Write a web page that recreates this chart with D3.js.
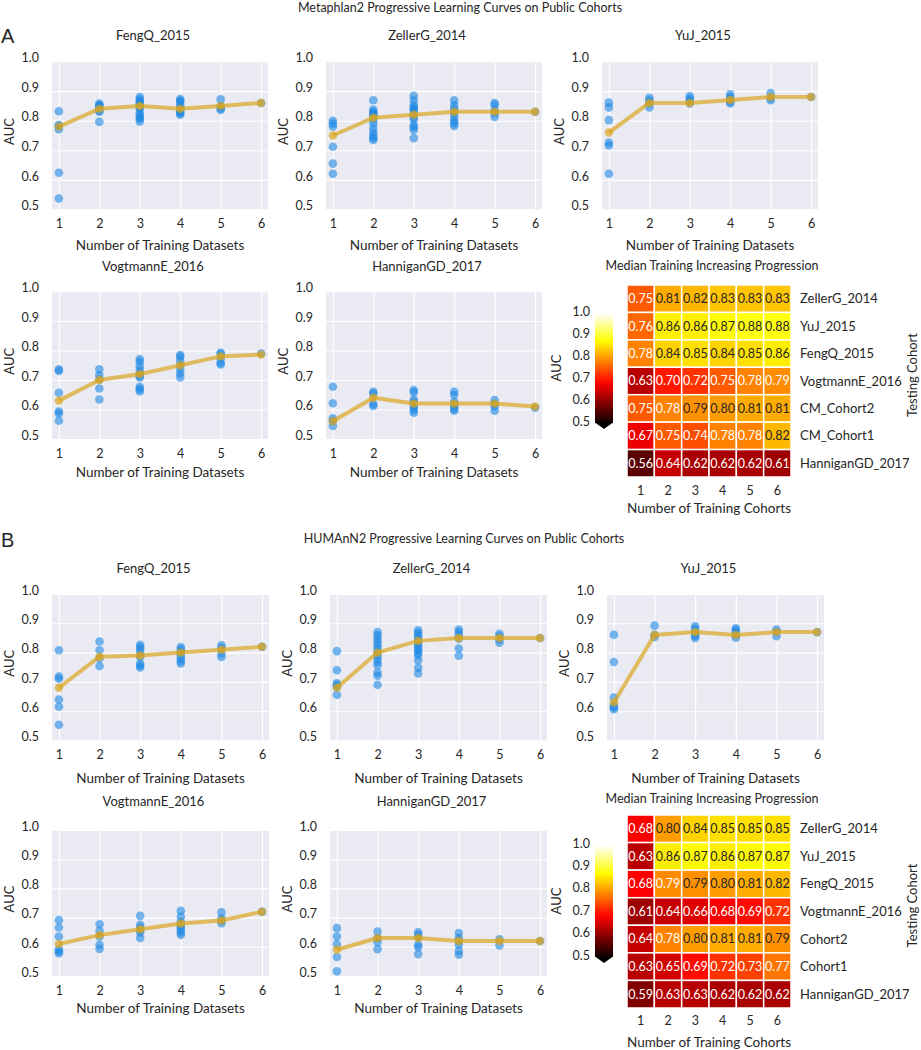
<!DOCTYPE html>
<html>
<head>
<meta charset="utf-8">
<script src="https://cdn.jsdelivr.net/npm/d3@7"></script>
<style>
  body { margin: 0; background: #fff; }
  svg text { font-family: Lato, "Open Sans", sans-serif; fill: #262626; }
</style>
</head>
<body>
<svg id="fig" width="921" height="1050"></svg>
<script>
// ---- data ----
const trainCounts = [1, 2, 3, 4, 5, 6];
const aucTicks = [0.5, 0.6, 0.7, 0.8, 0.9, 1.0];
const colorbarTicks = [0.5, 0.6, 0.7, 0.8, 0.9, 1.0];

const curveCohorts = ["FengQ_2015", "ZellerG_2014", "YuJ_2015", "VogtmannE_2016", "HanniganGD_2017"];

// median AUC per testing cohort (heatmap rows, also the gold lines)
const metaRows = ["ZellerG_2014", "YuJ_2015", "FengQ_2015", "VogtmannE_2016", "CM_Cohort2", "CM_Cohort1", "HanniganGD_2017"];
const metaMedian = [
  [0.75, 0.81, 0.82, 0.83, 0.83, 0.83],
  [0.76, 0.86, 0.86, 0.87, 0.88, 0.88],
  [0.78, 0.84, 0.85, 0.84, 0.85, 0.86],
  [0.63, 0.70, 0.72, 0.75, 0.78, 0.786],
  [0.75, 0.78, 0.79, 0.80, 0.81, 0.81],
  [0.67, 0.75, 0.74, 0.78, 0.78, 0.82],
  [0.56, 0.64, 0.62, 0.62, 0.62, 0.61]
];
const humRows = ["ZellerG_2014", "YuJ_2015", "FengQ_2015", "VogtmannE_2016", "Cohort2", "Cohort1", "HanniganGD_2017"];
const humMedian = [
  [0.68, 0.80, 0.84, 0.85, 0.85, 0.85],
  [0.63, 0.86, 0.87, 0.86, 0.87, 0.87],
  [0.68, 0.786, 0.79, 0.80, 0.81, 0.82],
  [0.61, 0.64, 0.66, 0.68, 0.69, 0.72],
  [0.64, 0.78, 0.80, 0.81, 0.81, 0.79],
  [0.63, 0.65, 0.69, 0.72, 0.73, 0.77],
  [0.59, 0.63, 0.63, 0.62, 0.62, 0.62]
];

// individual AUCs, one list per number of training datasets
const metaFengQ = [
  [0.832, 0.785, 0.782, 0.771, 0.624, 0.537],
  [0.858, 0.853, 0.85, 0.845, 0.834, 0.83, 0.796],
  [0.880, 0.872, 0.865, 0.860, 0.855, 0.849, 0.845, 0.84, 0.825, 0.819, 0.811, 0.806, 0.797],
  [0.873, 0.867, 0.864, 0.851, 0.845, 0.836, 0.83, 0.825, 0.820],
  [0.872, 0.849, 0.841, 0.836],
  [0.86]
];
const metaZeller = [
  [0.800, 0.790, 0.780, 0.712, 0.655, 0.621],
  [0.869, 0.838, 0.830, 0.825, 0.822, 0.813, 0.804, 0.791, 0.774, 0.760, 0.749, 0.741, 0.735],
  [0.884, 0.869, 0.853, 0.845, 0.840, 0.836, 0.825, 0.813, 0.804, 0.785, 0.778, 0.769, 0.741],
  [0.869, 0.853, 0.841, 0.832, 0.825, 0.813, 0.80, 0.791, 0.782],
  [0.860, 0.853, 0.836, 0.825, 0.813],
  [0.83]
];
const metaYuJ = [
  [0.861, 0.845, 0.802, 0.726, 0.716, 0.621],
  [0.877, 0.869, 0.860, 0.845],
  [0.883, 0.875, 0.867, 0.858],
  [0.889, 0.880, 0.872, 0.864, 0.858],
  [0.893, 0.877, 0.869],
  [0.88]
];
const metaVogtmann = [
  [0.736, 0.731, 0.657, 0.593, 0.587, 0.562],
  [0.736, 0.717, 0.702, 0.671, 0.634],
  [0.771, 0.762, 0.747, 0.733, 0.722, 0.713, 0.709, 0.677, 0.669, 0.661],
  [0.785, 0.779, 0.765, 0.750, 0.736, 0.722, 0.709],
  [0.792, 0.788, 0.773, 0.758, 0.753],
  [0.79]
];
const metaHannigan = [
  [0.677, 0.621, 0.570, 0.561, 0.544],
  [0.660, 0.654, 0.619, 0.612],
  [0.666, 0.658, 0.634, 0.626, 0.615, 0.606, 0.598, 0.589],
  [0.660, 0.649, 0.626, 0.619, 0.610, 0.602, 0.596],
  [0.632, 0.619, 0.610, 0.596],
  [0.606]
];
const humFengQ = [
  [0.808, 0.718, 0.711, 0.640, 0.615, 0.554],
  [0.838, 0.808, 0.780, 0.754],
  [0.827, 0.819, 0.810, 0.797, 0.785, 0.763, 0.755, 0.749],
  [0.819, 0.811, 0.802, 0.791, 0.780, 0.771, 0.763],
  [0.825, 0.816, 0.797, 0.785],
  [0.82]
];
const humZeller = [
  [0.805, 0.740, 0.695, 0.690, 0.684, 0.656],
  [0.870, 0.859, 0.847, 0.836, 0.825, 0.814, 0.802, 0.791, 0.780, 0.768, 0.757, 0.732, 0.721, 0.690],
  [0.876, 0.868, 0.859, 0.850, 0.842, 0.834, 0.825, 0.816, 0.808, 0.800, 0.791, 0.774, 0.748, 0.729],
  [0.879, 0.870, 0.859, 0.847, 0.814, 0.789],
  [0.864, 0.856, 0.845, 0.834],
  [0.85]
];
const humYuJ = [
  [0.861, 0.768, 0.647, 0.620, 0.613, 0.607],
  [0.892, 0.861, 0.853],
  [0.890, 0.881, 0.872, 0.864, 0.856, 0.850],
  [0.883, 0.876, 0.868, 0.859, 0.851],
  [0.879, 0.870, 0.856],
  [0.87]
];
const humVogtmann = [
  [0.692, 0.666, 0.635, 0.592, 0.584, 0.578],
  [0.677, 0.655, 0.635, 0.607, 0.593],
  [0.706, 0.675, 0.666, 0.658, 0.649, 0.630],
  [0.723, 0.703, 0.686, 0.675, 0.666, 0.658, 0.649, 0.641],
  [0.718, 0.698, 0.689, 0.681],
  [0.72]
];
const humHannigan = [
  [0.664, 0.635, 0.609, 0.565, 0.516],
  [0.652, 0.630, 0.616, 0.592],
  [0.650, 0.641, 0.632, 0.607, 0.599, 0.575],
  [0.647, 0.630, 0.620, 0.607, 0.586, 0.573],
  [0.626, 0.605],
  [0.62]
];

// ---- layout ----
const panels = [
  {
    letter: "A", letterY: 43, title: "Metaphlan2 Progressive Learning Curves on Public Cohorts", titleX: 460, titleY: 12,
    points: [metaFengQ, metaZeller, metaYuJ, metaVogtmann, metaHannigan],
    rows: metaRows, median: metaMedian,
    cols: [52, 326, 602], width: 216,
    lines: [
      { top: 61.5, bottom: 209.5, titleY: 39.5, xlabY: 249.5 },
      { top: 291.5, bottom: 439, titleY: 270.5, xlabY: 476.5 }
    ],
    heat: { x0: 627, x1: 791, y0: 285, y1: 477, titleY: 269.5, tickY: 494.5, labY: 512.5, cbTop: 313, cbBottom: 423 }
  },
  {
    letter: "B", letterY: 547, title: "HUMAnN2 Progressive Learning Curves on Public Cohorts", titleX: 464, titleY: 542.5,
    points: [humFengQ, humZeller, humYuJ, humVogtmann, humHannigan],
    rows: humRows, median: humMedian,
    cols: [52, 330, 607], width: 217,
    lines: [
      { top: 594, bottom: 740.5, titleY: 572.5, xlabY: 782.5 },
      { top: 830, bottom: 976, titleY: 805.5, xlabY: 1012.5 }
    ],
    heat: { x0: 627, x1: 791, y0: 815, y1: 1008, titleY: 802.5, tickY: 1024.5, labY: 1046.5, cbTop: 845, cbBottom: 957 }
  }
];

const svg = d3.select("#fig");
svg.append("rect").attr("width", 921).attr("height", 1050).attr("fill", "#fff");

// matplotlib "hot"
function hot(t) {
  t = Math.max(0, Math.min(1, t));
  const a = 0.365079, b = 0.746032;
  const r = t < a ? 0.0416 + (1 - 0.0416) * t / a : 1;
  const g = t < a ? 0 : (t < b ? (t - a) / (b - a) : 1);
  const bl = t < b ? 0 : (t - b) / (1 - b);
  return d3.rgb(r * 255, g * 255, bl * 255);
}
const aucToT = d3.scaleLinear().domain([0.5, 1.0]).range([0, 1]).clamp(true);

function luminance(c) {
  const lin = v => { v /= 255; return v <= 0.03928 ? v / 12.92 : Math.pow((v + 0.055) / 1.055, 2.4); };
  return 0.2126 * lin(c.r) + 0.7152 * lin(c.g) + 0.0722 * lin(c.b);
}

function drawCurve(name, pts, med, left, width, row) {
  const g = svg.append("g");
  const height = row.bottom - row.top;
  const x = d3.scaleLinear().domain([0.83, 6.17]).range([left, left + width]);
  const y = d3.scaleLinear().domain([0.5, 1.0]).range([row.bottom, row.top]);

  g.append("rect")
    .attr("x", left).attr("y", row.top)
    .attr("width", width).attr("height", height)
    .attr("fill", "#eaeaf2");

  const ya = g.append("g")
    .attr("transform", `translate(${left},0)`)
    .call(d3.axisLeft(y).tickValues(aucTicks).tickSize(-width).tickPadding(13).tickFormat(d3.format(".1f")))
    .attr("font-size", 12.5);
  ya.select(".domain").remove();
  ya.selectAll("line").attr("stroke", "#fff").attr("stroke-width", 1.1);
  ya.selectAll("text").attr("dy", "0.02em");

  const xa = g.append("g")
    .attr("transform", `translate(0,${row.bottom})`)
    .call(d3.axisBottom(x).tickValues(trainCounts).tickSize(-height).tickPadding(10).tickFormat(d3.format("d")))
    .attr("font-size", 12.5);
  xa.select(".domain").remove();
  xa.selectAll("line").attr("stroke", "#fff").attr("stroke-width", 1.1);

  const flat = [];
  pts.forEach((list, i) => list.forEach(v => flat.push({ n: trainCounts[i], v: v })));
  g.selectAll("circle.pt").data(flat).join("circle")
    .attr("class", "pt")
    .attr("cx", d => x(d.n)).attr("cy", d => y(d.v))
    .attr("r", 4.3)
    .attr("fill", "#1e88e5").attr("fill-opacity", 0.6);

  g.append("path")
    .datum(med)
    .attr("fill", "none")
    .attr("stroke", "goldenrod").attr("stroke-opacity", 0.7)
    .attr("stroke-width", 4)
    .attr("stroke-linejoin", "round")
    .attr("d", d3.line().x((d, i) => x(trainCounts[i])).y(d => y(d)));
  g.selectAll("circle.med").data(med).join("circle")
    .attr("class", "med")
    .attr("cx", (d, i) => x(trainCounts[i])).attr("cy", d => y(d))
    .attr("r", 4.2)
    .attr("fill", "goldenrod").attr("fill-opacity", 0.7);

  g.append("text")
    .attr("x", left + width / 2 - 7).attr("y", row.titleY)
    .attr("text-anchor", "middle").attr("font-size", 13)
    .text(name);
  g.append("text")
    .attr("x", left + width / 2).attr("y", row.xlabY)
    .attr("text-anchor", "middle").attr("font-size", 13.5)
    .text("Number of Training Datasets");
  g.append("text")
    .attr("transform", `translate(${left - 38},${(row.top + row.bottom) / 2 - 4}) rotate(-90)`)
    .attr("text-anchor", "middle").attr("font-size", 13)
    .text("AUC");
}

function drawHeat(p, gid) {
  const h = p.heat;
  const g = svg.append("g");
  const x = d3.scaleBand().domain(trainCounts).range([h.x0, h.x1]);
  const y = d3.scaleBand().domain(p.rows).range([h.y0, h.y1]);

  const cells = [];
  p.rows.forEach((r, i) => p.median[i].forEach((v, j) => cells.push({ r: r, n: trainCounts[j], v: v })));

  g.selectAll("rect.cell").data(cells).join("rect")
    .attr("class", "cell")
    .attr("x", d => x(d.n)).attr("y", d => y(d.r))
    .attr("width", x.bandwidth()).attr("height", y.bandwidth())
    .attr("fill", d => hot(aucToT(d.v)))
    .attr("stroke", "#fff").attr("stroke-width", 1.5);
  g.selectAll("text.ann").data(cells).join("text")
    .attr("class", "ann")
    .attr("x", d => x(d.n) + x.bandwidth() / 2).attr("y", d => y(d.r) + y.bandwidth() / 2)
    .attr("dy", "0.35em").attr("text-anchor", "middle").attr("font-size", 12.5)
    .style("fill", d => luminance(hot(aucToT(d.v))) > 0.408 ? "#262626" : "#fff")
    .text(d => d3.format(".2f")(d.v));

  // row labels on the right
  g.selectAll("text.rowlab").data(p.rows).join("text")
    .attr("class", "rowlab")
    .attr("x", h.x1 + 9).attr("y", d => y(d) + y.bandwidth() / 2)
    .attr("dy", "0.35em").attr("font-size", 13)
    .text(d => d);
  g.selectAll("text.coltick").data(trainCounts).join("text")
    .attr("class", "coltick")
    .attr("x", d => x(d) + x.bandwidth() / 2).attr("y", h.tickY)
    .attr("text-anchor", "middle").attr("font-size", 12.5)
    .text(d => d);

  g.append("text")
    .attr("x", (h.x0 + h.x1) / 2 + 3).attr("y", h.titleY)
    .attr("text-anchor", "middle").attr("font-size", 12.5)
    .text("Median Training Increasing Progression");
  g.append("text")
    .attr("x", (h.x0 + h.x1) / 2).attr("y", h.labY)
    .attr("text-anchor", "middle").attr("font-size", 13.5)
    .text("Number of Training Cohorts");
  g.append("text")
    .attr("transform", `translate(917,${(h.y0 + h.y1) / 2 - 6}) rotate(-90)`)
    .attr("text-anchor", "middle").attr("font-size", 13)
    .text("Testing Cohort");

  // colorbar with extend-min arrow
  const cbX = 595, cbW = 18;
  const cy = d3.scaleLinear().domain([0.5, 1.0]).range([h.cbBottom, h.cbTop]);
  const grad = svg.append("defs").append("linearGradient")
    .attr("id", gid).attr("x1", 0).attr("y1", 1).attr("x2", 0).attr("y2", 0);
  d3.range(0, 1.0001, 0.05).forEach(t => {
    grad.append("stop").attr("offset", t).attr("stop-color", hot(t));
  });
  g.append("rect")
    .attr("x", cbX).attr("y", cy(1.0))
    .attr("width", cbW).attr("height", cy(0.5) - cy(1.0))
    .attr("fill", `url(#${gid})`);
  g.append("path")
    .attr("d", `M${cbX},${cy(0.5) - 0.5}L${cbX + cbW},${cy(0.5) - 0.5}L${cbX + cbW / 2},${cy(0.5) + 6}Z`)
    .attr("fill", "#000");
  g.selectAll("text.cbt").data(colorbarTicks).join("text")
    .attr("class", "cbt")
    .attr("x", cbX - 5).attr("y", d => cy(d))
    .attr("dy", "0.2em").attr("text-anchor", "end").attr("font-size", 12.5)
    .text(d3.format(".1f"));
  g.append("text")
    .attr("transform", `translate(${cbX - 34},${(cy(0.5) + cy(1.0)) / 2}) rotate(-90)`)
    .attr("text-anchor", "middle").attr("font-size", 13)
    .text("AUC");
}

panels.forEach((p, pi) => {
  svg.append("text")
    .attr("x", p.titleX).attr("y", p.titleY)
    .attr("text-anchor", "middle").attr("font-size", 12.5)
    .text(p.title);
  svg.append("text")
    .attr("x", 1).attr("y", p.letterY)
    .attr("font-size", 20)
    .style("font-family", "'Liberation Sans', Arial, sans-serif")
    .text(p.letter);

  curveCohorts.forEach((name, i) => {
    const row = p.lines[Math.floor(i / 3)];
    const left = p.cols[i % 3];
    const mi = p.rows.indexOf(name);
    drawCurve(name, p.points[i], p.median[mi], left, p.width, row);
  });
  drawHeat(p, "cbgrad" + pi);
});
</script>
</body>
</html>
